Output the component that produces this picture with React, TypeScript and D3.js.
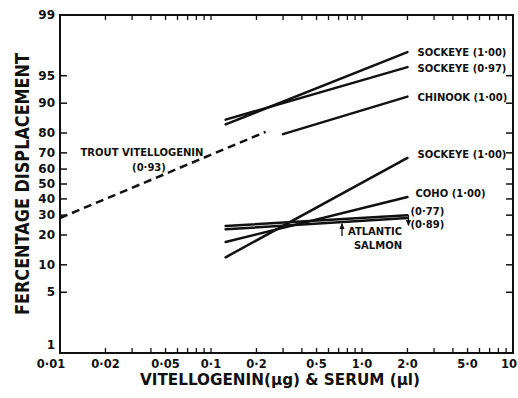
import React from 'react';
import * as d3 from 'd3';

// tick values / labels
const xTickValues = [0.01, 0.02, 0.05, 0.1, 0.2, 0.5, 1, 2, 5, 10];
const xTickLabels = ['0·01', '0·02', '0·05', '0·1', '0·2', '0·5', '1·0', '2·0', '5·0', '10'];
const yTickValues = [1, 5, 10, 20, 30, 40, 50, 60, 70, 80, 90, 95, 99];

// doses (start, end) for each line
const troutDose = [0.01, 0.23];
const serumDose = [0.125, 2.0];
const chinookDose = [0.3, 2.0];

// percentage displacement (start, end)
const trout = [28.4, 80.5];
const sockeyeHighA = [83.5, 97.3];
const sockeyeHighB = [85.2, 96.0];
const chinook = [79.5, 91.5];
const sockeyeLow = [12.0, 67.0];
const coho = [17.1, 41.2];
const atlantic77 = [24.2, 30.0];
const atlantic89 = [22.6, 28.4];

const logit = (p: number) => Math.log(p / (100 - p));

const font = '"DejaVu Sans", sans-serif';

export default function App() {
  const width = 518;
  const height = 398;
  const left = 60, right = 513, top = 15, bottom = 353;

  const x = d3.scaleLog().domain([0.01, 10]).range([left, right]);
  const yl = d3.scaleLinear().domain([logit(1), logit(99)]).range([bottom, top]);
  const y = (p: number) => yl(logit(p));

  const line = d3.line<[number, number]>()
    .x(d => x(d[0]))
    .y(d => y(d[1]));

  const pts = (dose: number[], pct: number[]) =>
    dose.map((d, i) => [d, pct[i]] as [number, number]);

  const solid = [
    pts(serumDose, sockeyeHighA),
    pts(serumDose, sockeyeHighB),
    pts(chinookDose, chinook),
    pts(serumDose, sockeyeLow),
    pts(serumDose, coho),
    pts(serumDose, atlantic77),
    pts(serumDose, atlantic89),
  ];

  const minor = x.ticks().filter(v => v > 0.01 && v < 10);
  const xEnd = x(serumDose[1]);

  const lab = {fontFamily: font, fontWeight: 'bold' as const, fontSize: 10, fill: '#111'};

  return (
    <svg width={width} height={height} style={{position: 'absolute', left: 0, top: 0, background: '#fff'}}>
      <defs>
        <marker id="ah" viewBox="0 -5 10 10" refX={8} refY={0} markerWidth={5} markerHeight={5} orient="auto">
          <path d="M0,-4L10,0L0,4" fill="#111" />
        </marker>
      </defs>
      {/* frame */}
      <path d={`M${left},${top}H${right}V${bottom}H${left}Z`} fill="none" stroke="#111" strokeWidth={2} />
      {/* x minor ticks, bottom (up) and top (down) */}
      {minor.map((v, i) => (
        <g key={i} stroke="#111" strokeWidth={1.3}>
          <line x1={x(v)} x2={x(v)} y1={bottom} y2={bottom - 5} />
          <line x1={x(v)} x2={x(v)} y1={top} y2={top + 5} />
        </g>
      ))}
      {/* y ticks left and right */}
      {yTickValues.filter(v => v > 1 && v < 99).map((v, i) => (
        <g key={i} stroke="#111" strokeWidth={1.5}>
          <line x1={left} x2={left + 7} y1={y(v)} y2={y(v)} />
          <line x1={right} x2={right - 7} y1={y(v)} y2={y(v)} />
        </g>
      ))}
      {/* tick labels */}
      {xTickValues.map((v, i) => (
        <text key={i}
          x={i === 0 ? x(v) - 9 : i === xTickValues.length - 1 ? 517 : x(v)}
          y={368}
          textAnchor={i === xTickValues.length - 1 ? 'end' : 'middle'}
          style={{...lab, fontSize: 11.5}}>{xTickLabels[i]}</text>
      ))}
      {yTickValues.map((v, i) => (
        <text key={i} x={55} y={v === 1 ? y(v) - 4 : y(v) + 4} textAnchor="end"
          style={{...lab, fontSize: 12}}>{v}</text>
      ))}
      {/* axis titles */}
      <text x={280} y={385} textAnchor="middle" textLength={280} lengthAdjust="spacingAndGlyphs"
        style={{...lab, fontSize: 16}}>VITELLOGENIN(µg) &amp; SERUM (µl)</text>
      <text transform={`translate(29,${184}) rotate(-90)`} textAnchor="middle" textLength={262}
        lengthAdjust="spacingAndGlyphs" style={{...lab, fontSize: 19}}>FERCENTAGE DISPLACEMENT</text>

      {/* data lines */}
      <path d={line(pts(troutDose, trout)) || ''} fill="none" stroke="#111" strokeWidth={2.5}
        strokeDasharray="8,5" />
      {solid.map((s, i) => (
        <path key={i} d={line(s) || ''} fill="none" stroke="#111" strokeWidth={2.5} strokeLinecap="round" />
      ))}

      {/* labels */}
      <text x={xEnd + 10} y={y(sockeyeHighA[1]) + 4} style={lab}>SOCKEYE (1·00)</text>
      <text x={xEnd + 10} y={y(sockeyeHighB[1]) + 5} style={lab}>SOCKEYE (0·97)</text>
      <text x={xEnd + 10} y={y(chinook[1]) + 4} style={lab}>CHINOOK (1·00)</text>
      <text x={xEnd + 10} y={y(sockeyeLow[1])} style={lab}>SOCKEYE (1·00)</text>
      <text x={xEnd + 8} y={y(coho[1])} style={lab}>COHO (1·00)</text>
      <text x={xEnd + 3} y={y(atlantic77[1]) + 0} style={lab}>(0·77)</text>
      <text x={xEnd + 3} y={y(atlantic89[1]) + 10} style={lab}>(0·89)</text>
      <text x={375} y={235} textAnchor="middle" style={lab}>ATLANTIC</text>
      <text x={378} y={249} textAnchor="middle" style={lab}>SALMON</text>
      <line x1={342} x2={342} y1={236} y2={224} stroke="#111" strokeWidth={1.3} markerEnd="url(#ah)" />
      <line x1={xEnd + 1} x2={xEnd + 1} y1={y(atlantic77[1])} y2={y(atlantic89[1]) + 7}
        stroke="#111" strokeWidth={1.3} markerEnd="url(#ah)" />
      <text x={142} y={156} textAnchor="middle" style={lab}>TROUT VITELLOGENIN</text>
      <text x={149} y={171} textAnchor="middle" style={lab}>(0·93)</text>
    </svg>
  );
}
